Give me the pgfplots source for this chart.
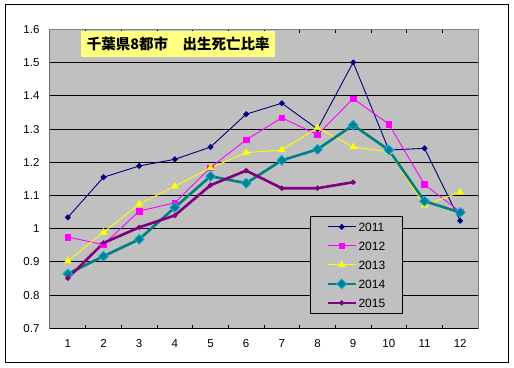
\documentclass[border=0pt]{standalone}
\usepackage{fontspec}
\setmainfont{Liberation Sans}
\newfontfamily\cjk{Noto Sans CJK JP}
\usepackage{pgfplots}
\pgfplotsset{compat=1.18}
\definecolor{plotbg}{HTML}{C0C0C0}
\definecolor{c2011}{HTML}{000080}
\definecolor{c2012}{HTML}{FF00FF}
\definecolor{c2013}{HTML}{FFFF00}
\definecolor{c2014}{HTML}{008080}
\definecolor{c2015}{HTML}{800080}
\definecolor{titlebg}{HTML}{FFFF80}
\definecolor{frame}{HTML}{808080}
\begin{document}
\begin{tikzpicture}[x=1pt,y=1pt]
\useasboundingbox (0,0) rectangle (514,367);
\draw[black,line width=1pt] (5,5) rectangle (508,362);
\begin{axis}[
  at={(50pt,38.7pt)}, anchor=south west,
  scale only axis, width=428pt, height=298.8pt,
  xmin=0.5, xmax=12.5, ymin=0.7, ymax=1.6,
  axis background/.style={fill=plotbg},
  axis line style={draw=frame, line width=1pt},
  xtick={1,2,3,4,5,6,7,8,9,10,11,12},
  major x tick style={draw=none},
  minor xtick={1.5,2.5,3.5,4.5,5.5,6.5,7.5,8.5,9.5,10.5,11.5},
  minor x tick style={black, line width=0.8pt},
  minor tick length=3.3pt,
  xtick align=inside,
  ytick={0.7,0.8,0.9,1.0,1.1,1.2,1.3,1.4,1.5,1.6},
  yticklabels={0.7,0.8,0.9,1,1.1,1.2,1.3,1.4,1.5,1.6},
  major y tick style={draw=none},
  ymajorgrids, grid style={black, line width=0.9pt},
  /pgf/number format/assume math mode=true,
  tick label style={font=\fontsize{11.5}{13}\selectfont},
  xticklabel style={yshift=-8pt},
  yticklabel style={xshift=-7pt},
  legend style={at={(rel axis cs:0.6075,0.3758)}, anchor=north west,
    draw=black, line width=0.8pt, fill=plotbg, inner xsep=16pt, inner ysep=1pt,
    font=\fontsize{12}{14}\selectfont,
    nodes={inner xsep=1.5pt, inner ysep=5pt, text height=9pt, text depth=0pt, anchor=west}},
  legend cell align=left,
  legend image code/.code={\draw[mark repeat=2,mark phase=2,#1] plot coordinates {(0pt,0pt) (14pt,0pt) (28pt,0pt)};},
]
\addplot[c2011, line width=0.9pt, mark=square*, mark size=1.9pt, mark options={rotate=45, solid, fill=c2011, draw=c2011, line width=0.5pt}]
 coordinates {(1,1.034) (2,1.155) (3,1.189) (4,1.209) (5,1.246) (6,1.345) (7,1.378) (8,1.300) (9,1.501) (10,1.237) (11,1.242) (12,1.024)};
\addlegendentry{2011}
\addplot[c2012, line width=0.9pt, mark=square*, mark size=2.8pt, mark options={solid, fill=c2012, draw=c2012, line width=0.5pt}]
 coordinates {(1,0.975) (2,0.952) (3,1.053) (4,1.078) (5,1.184) (6,1.268) (7,1.334) (8,1.283) (9,1.392) (10,1.315) (11,1.133) (12,1.051)};
\addlegendentry{2012}
\addplot[c2013, line width=0.9pt, mark=triangle*, mark size=3.8pt, mark options={solid, fill=c2013, draw=c2013, line width=0.5pt}]
 coordinates {(1,0.903) (2,0.989) (3,1.074) (4,1.128) (5,1.183) (6,1.229) (7,1.237) (8,1.304) (9,1.246) (10,1.232) (11,1.071) (12,1.110)};
\addlegendentry{2013}
\addplot[c2014, line width=2.6pt, mark=square*, mark size=3.4pt, mark options={rotate=45, solid, fill=c2014, draw=cyan, line width=0.9pt}]
 coordinates {(1,0.864) (2,0.917) (3,0.968) (4,1.064) (5,1.158) (6,1.137) (7,1.206) (8,1.239) (9,1.312) (10,1.237) (11,1.083) (12,1.049)};
\addlegendentry{2014}
\addplot[c2015, line width=2.6pt, mark=square*, mark size=1.7pt, mark options={rotate=45, solid, fill=c2015, draw=c2015, line width=0.5pt}]
 coordinates {(1,0.851) (2,0.957) (3,1.004) (4,1.040) (5,1.131) (6,1.175) (7,1.122) (8,1.122) (9,1.140)};
\addlegendentry{2015}
\draw[black, line width=1pt] (rel axis cs:0,1) -- (rel axis cs:0,0) -- (rel axis cs:1,0);
\node[fill=titlebg, minimum width=194pt, minimum height=26pt, inner sep=0pt,
  font=\cjk\bfseries\fontsize{14.5}{16}\selectfont] at (rel axis cs:0.2997,0.9517) {千葉県8都市　出生死亡比率};
\end{axis}
\end{tikzpicture}
\end{document}
